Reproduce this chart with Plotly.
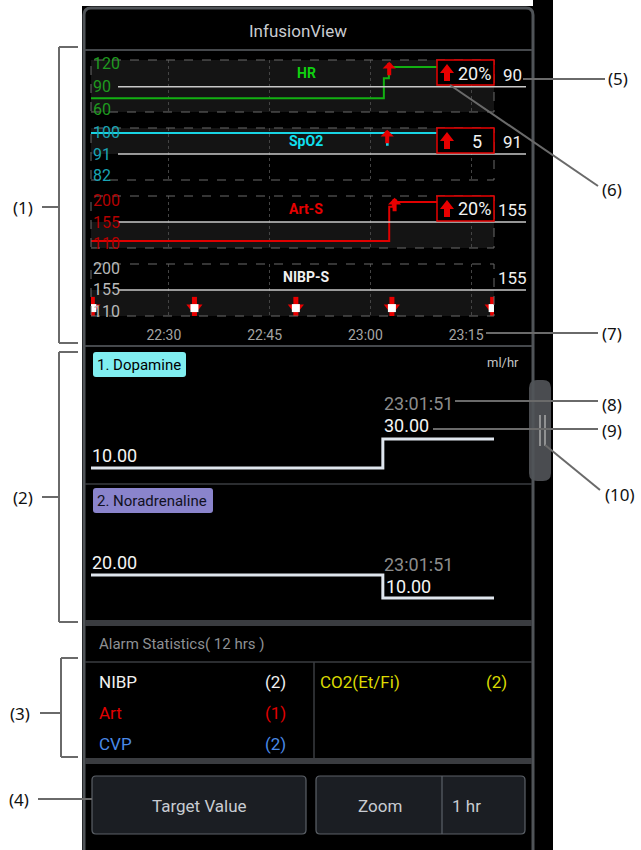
import plotly.graph_objects as go

W, H = 641, 850
def X(px): return px / W
def Y(py): return 1 - py / H

DAY = "2024-05-20 "
# ---------------- data ----------------
window = [DAY + "22:18:24", DAY + "23:18:24"]
time_ticks = [DAY + "22:30", DAY + "22:45", DAY + "23:00", DAY + "23:15"]
time_labels = ["22:30", "22:45", "23:00", "23:15"]

hr_time = [DAY + "22:18:24", DAY + "23:02:00", DAY + "23:02:45", DAY + "23:09:54"]
hr_bpm = [75, 101, 116, 116]
hr_ticks = [60, 90, 120]
hr_target = 90
hr_alarm_time = DAY + "23:02:48"
hr_alarm_text = "20%"

spo2_time = [DAY + "22:18:24", DAY + "23:02:28", DAY + "23:02:34", DAY + "23:09:54"]
spo2_pct = [100, 95, 100, 100]
spo2_ticks = [82, 91, 100]
spo2_target = 91
spo2_alarm_time = DAY + "23:02:30"
spo2_alarm_text = "5"

art_time = [DAY + "22:18:24", DAY + "23:02:48", DAY + "23:03:20", DAY + "23:09:54"]
art_sys = [116, 186, 196, 196]
art_ticks = [110, 155, 200]
art_target = 155
art_alarm_time = DAY + "23:03:36"
art_alarm_text = "20%"

nibp_time = [DAY + "22:18:36", DAY + "22:33:48", DAY + "22:48:54", DAY + "23:03:12", DAY + "23:18:12"]
nibp_sys = [118, 118, 118, 118, 118]
nibp_ticks = [110, 155, 200]
nibp_target = 155

dopa_time = [DAY + "22:18:24", DAY + "23:01:51", DAY + "23:18:24"]
dopa_rate = [10.00, 30.00, 30.00]
nora_time = [DAY + "22:18:24", DAY + "23:01:51", DAY + "23:18:24"]
nora_rate = [20.00, 10.00, 10.00]
change_label = "23:01:51"

alarm_left_names = ["NIBP", "Art", "CVP"]
alarm_left_counts = [2, 1, 2]
alarm_right_names = ["CO2(Et/Fi)"]
alarm_right_counts = [2]

# ---------------- style ----------------
FONT = "Roboto, 'Noto Sans', sans-serif"
RED = "#e80000"
shapes, annos = [], []

def P(x, y):
    return f"{X(x):.5f},{Y(y):.5f}"

def rrect(x0, y0, x1, y1, r, fill=None, line=None, lw=1, layer="below"):
    path = (f"M{P(x0+r,y0)} L{P(x1-r,y0)} Q{P(x1,y0)} {P(x1,y0+r)} L{P(x1,y1-r)} "
            f"Q{P(x1,y1)} {P(x1-r,y1)} L{P(x0+r,y1)} Q{P(x0,y1)} {P(x0,y1-r)} "
            f"L{P(x0,y0+r)} Q{P(x0,y0)} {P(x0+r,y0)} Z")
    shapes.append(dict(type="path", xref="paper", yref="paper", path=path, layer=layer,
                       fillcolor=fill or "rgba(0,0,0,0)",
                       line=dict(color=line or "rgba(0,0,0,0)", width=lw if line else 0)))

def rect(x0, y0, x1, y1, fill, layer="below"):
    shapes.append(dict(type="rect", xref="paper", yref="paper", x0=X(x0), x1=X(x1),
                       y0=Y(y1), y1=Y(y0), fillcolor=fill, line=dict(width=0), layer=layer))

def line(x0, y0, x1, y1, color, w=1.5, layer="above"):
    shapes.append(dict(type="line", xref="paper", yref="paper", x0=X(x0), y0=Y(y0),
                       x1=X(x1), y1=Y(y1), line=dict(color=color, width=w), layer=layer))

def text(t, x, y, size=17, color="#ffffff", anchor="center", bold=False, font=FONT):
    if bold:
        t = f"<b>{t}</b>"
    annos.append(dict(text=t, x=X(x), y=Y(y), xref="paper", yref="paper", showarrow=False,
                      xanchor=anchor, yanchor="middle",
                      font=dict(size=size, color=color, family=font)))

def up_arrow(cx, top):
    pts = [(cx-7, top+9), (cx, top), (cx+7, top+9), (cx+3, top+9), (cx+3, top+17),
           (cx-3, top+17), (cx-3, top+9)]
    path = "M" + " L".join(P(a, b) for a, b in pts) + " Z"
    shapes.append(dict(type="path", xref="paper", yref="paper", path=path, layer="above",
                       fillcolor=RED, line=dict(width=0)))

# device body and panel frame
rect(82, 6, 553, 850, "#000000")
rect(533, 0, 553, 850, "#000000")
# side tab (10)
rrect(529, 380, 551, 481, 8, fill="#4a4c50", layer="below")
rrect(84, 8, 533, 860, 7, line="#505458", lw=3, layer="below")
line(540, 415, 540, 446, "#a8a8a8", 1.5)
line(545, 415, 545, 446, "#a8a8a8", 1.5)

# section separators
line(85, 50, 532, 50, "#45484c", 2, "below")
line(85, 346, 532, 346, "#45484c", 2, "below")
line(85, 484, 532, 484, "#3a3c40", 1.5, "below")
rect(85, 620, 532, 626, "#3a3c40")
line(85, 662, 532, 662, "#3a3c40", 1.5, "below")
line(314, 662, 314, 758, "#3a3c40", 1.5, "below")
rect(85, 758, 532, 764, "#3a3c40")

text("InfusionView", 298, 31, 17, "#c8cbd0")

# ---------------- trend subplots ----------------
X0, X1 = 91, 494
rows = [
    ("", "HR", hr_time, hr_bpm, hr_ticks, hr_target, [57, 125], 60, 112, "#12b012", "#1f9a1f", "#10d010", (0, 1)),
    ("2", "SpO2", spo2_time, spo2_pct, spo2_ticks, spo2_target, [79.9, 102.1], 128, 180, "#18d4e4", "#1aa4b4", "#10e0f0", (0.5, 1)),
    ("3", "Art-S", art_time, art_sys, art_ticks, art_target, [101.8, 208.2], 196, 248, "#e00000", "#b40000", "#e60000", (0, 0.5)),
    ("4", "NIBP-S", nibp_time, nibp_sys, nibp_ticks, nibp_target, [101.8, 208.2], 264, 316, "#ffffff", "#b8b8b8", "#f0f0f0", (0, 0.5)),
]

fig = go.Figure()
layout = {}
for k, name, tt, vv, ticks, target, yr, top, bot, tcol, kcol, lcol, shade in rows:
    xa, ya = "x" + k, "y" + k
    last = (k == "4")
    layout["xaxis" + k] = dict(domain=[X(X0), X(X1)], range=window, type="date", anchor=ya,
                               showgrid=True, gridcolor="#444444", griddash="dot", gridwidth=1,
                               tickvals=time_ticks, ticktext=time_labels, showticklabels=last,
                               ticks="", zeroline=False, showline=False,
                               tickfont=dict(size=14, color="#a4a4a4", family=FONT),
                               ticklabelstandoff=9, ticklabelshift=-5)
    layout["yaxis" + k] = dict(domain=[Y(bot), Y(top)], range=yr, anchor=xa,
                               showticklabels=False, showgrid=False, zeroline=False,
                               showline=False, ticks="")
    # y tick labels, placed inside the frame at each tick value
    for tv in ticks:
        annos.append(dict(text=str(tv), x=X(91), y=tv, xref="paper", yref=ya, showarrow=False,
                          xanchor="left", yanchor="middle",
                          font=dict(size=16, color=kcol, family=FONT)))
    # target shading
    shapes.append(dict(type="rect", xref=xa + " domain", yref=ya + " domain", x0=0, x1=1,
                       y0=shade[0], y1=shade[1], fillcolor="#141414", line=dict(width=0),
                       layer="below"))
    # dashed frame
    shapes.append(dict(type="rect", xref=xa + " domain", yref=ya + " domain", x0=0, x1=1,
                       y0=0, y1=1, line=dict(color="#6a6a6a", width=1, dash="dash"),
                       layer="above"))
    # target reference line
    shapes.append(dict(type="line", xref="paper", yref=ya, x0=X(118), x1=X(526),
                       y0=target, y1=target, line=dict(color="#c8c8c8", width=1.5),
                       layer="above"))
    annos.append(dict(text=str(target), x=X(512), y=target, xref="paper", yref=ya,
                      showarrow=False, yshift=12, xanchor="center", yanchor="middle",
                      font=dict(size=17, color="#f0f0f0", family=FONT)))
    annos.append(dict(text=f"<b>{name}</b>", x=X(306), y=Y(top + 13), xref="paper", yref="paper",
                      showarrow=False, xanchor="center", yanchor="middle",
                      font=dict(size=14, color=lcol, family=FONT)))
    if name != "NIBP-S":
        fig.add_trace(go.Scatter(x=tt, y=vv, xaxis=xa, yaxis=ya, mode="lines",
                                 line=dict(color=tcol, width=2, shape="hv"), showlegend=False))

# NIBP measurement markers
for sym, size, col, lw, lc in [("line-ns", 16, RED, 5, RED), ("triangle-down", 14, RED, 0, RED),
                               ("square", 8, "#ffffff", 0, "#ffffff")]:
    fig.add_trace(go.Scatter(x=nibp_time, y=nibp_sys, xaxis="x4", yaxis="y4", mode="markers",
                             marker=dict(symbol=sym, size=size, color=col,
                                         line=dict(color=lc, width=lw)),
                             showlegend=False, cliponaxis=True))

# alarm event arrows on trends
for xa, ya, t in [("x", "y", hr_alarm_time), ("x2", "y2", spo2_alarm_time), ("x3", "y3", art_alarm_time)]:
    annos.append(dict(x=t, y=0.965, xref=xa, yref=ya + " domain", text="", showarrow=True,
                      ax=0, ay=15, arrowhead=1, arrowsize=0.55, arrowwidth=4, arrowcolor=RED,
                      standoff=0))

# alarm boxes
for top, label in [(60, hr_alarm_text), (128, spo2_alarm_text), (196, art_alarm_text)]:
    shapes.append(dict(type="rect", xref="paper", yref="paper", x0=X(437), x1=X(494),
                       y0=Y(top + 25), y1=Y(top), fillcolor="#000000",
                       line=dict(color=RED, width=1.5), layer="above"))
    up_arrow(447, top + 4)
    text(label, 474 if label != "5" else 477, top + 13, 18, "#f2f2f2")

# ---------------- infusion subplots ----------------
inf = [("5", dopa_time, dopa_rate, [-1.0, 93.4], 347, 484),
       ("6", nora_time, nora_rate, [-0.43, 59.6], 484, 622)]
for k, tt, vv, yr, top, bot in inf:
    layout["xaxis" + k] = dict(domain=[X(X0), X(X1)], range=window, type="date", anchor="y" + k,
                               visible=False)
    layout["yaxis" + k] = dict(domain=[Y(bot), Y(top)], range=yr, anchor="x" + k, visible=False)
    fig.add_trace(go.Scatter(x=tt, y=vv, xaxis="x" + k, yaxis="y" + k, mode="lines",
                             line=dict(color="#dfe6ee", width=3, shape="hv"), showlegend=False))

rrect(93, 352, 186, 377, 3, fill="#80eef0")
text("1. Dopamine", 95, 365, 15, "#000000", "left")
rrect(93, 488, 213, 513, 3, fill="#8a84cc")
text("2. Noradrenaline", 95, 501, 15, "#111122", "left")
text("ml/hr", 503, 362, 13, "#c4c4c4")
text(f"{dopa_rate[0]:.2f}", 90, 455, 18, "#f4f4f4", "left")
text(change_label, 382, 403, 18, "#8c8c8c", "left")
text(f"{dopa_rate[1]:.2f}", 382, 425, 18, "#f4f4f4", "left")
text(f"{nora_rate[0]:.2f}", 90, 562, 18, "#f4f4f4", "left")
text(change_label, 382, 564, 18, "#8c8c8c", "left")
text(f"{nora_rate[1]:.2f}", 384, 586, 18, "#f4f4f4", "left")

# ---------------- alarm statistics ----------------
text("Alarm Statistics( 12 hrs )", 97, 644, 15, "#8e9094", "left")
left_cols = ["#f0f0f0", "#e00000", "#4a8ae8"]
for i, (n, c) in enumerate(zip(alarm_left_names, alarm_left_counts)):
    yy = 682 + i * 31
    text(n, 97, yy, 17, left_cols[i], "left")
    text(f"({c})", 275, yy, 17, left_cols[i])
for i, (n, c) in enumerate(zip(alarm_right_names, alarm_right_counts)):
    yy = 682 + i * 31
    text(n, 318, yy, 17, "#dada00", "left")
    text(f"({c})", 496, yy, 17, "#dada00")

# ---------------- buttons ----------------
rrect(92, 776, 306, 834, 4, fill="#1b1e23", line="#5c6168", lw=1.2)
rrect(316, 776, 525, 834, 4, fill="#1b1e23", line="#5c6168", lw=1.2)
line(442, 776, 442, 834, "#5c6168", 1.2)
text("Target Value", 199, 806, 17, "#c8ccd2")
text("Zoom", 380, 806, 17, "#c8ccd2")
text("1 hr", 466, 806, 17, "#c8ccd2")

# ---------------- callouts ----------------
CF = "'Noto Sans', 'Open Sans', sans-serif"
CC = "#6a6a6a"
def bracket(y0, y1, xv=59):
    line(xv, y0, 78, y0, CC, 2)
    line(xv, y1, 78, y1, CC, 2)
    line(xv, y0, xv, y1, CC, 2)
bracket(47, 343)
line(42, 207, 59, 207, CC, 2)
text("(1)", 23, 207, 17, "#111111", font=CF)
bracket(352, 622)
line(42, 497, 59, 497, CC, 2)
text("(2)", 23, 497, 17, "#111111", font=CF)
bracket(658, 757, 61)
line(40, 713, 61, 713, CC, 2)
text("(3)", 20, 713, 17, "#111111", font=CF)
line(38, 799, 92, 799, CC, 2)
text("(4)", 19, 799, 17, "#111111", font=CF)
line(523, 79, 605, 79, CC, 2)
text("(5)", 618, 79, 17, "#111111", font=CF)
line(450, 85, 598, 186, CC, 2)
text("(6)", 612, 190, 17, "#111111", font=CF)
line(486, 333, 598, 333, CC, 2)
text("(7)", 612, 333, 17, "#111111", font=CF)
line(455, 401, 598, 401, CC, 2)
text("(8)", 612, 404, 17, "#111111", font=CF)
line(433, 429, 598, 429, CC, 2)
text("(9)", 612, 430, 17, "#111111", font=CF)
line(545, 445, 600, 490, CC, 2)
text("(10)", 620, 494, 17, "#111111", font=CF)

fig.update_layout(width=W, height=H, margin=dict(l=0, r=0, t=0, b=0),
                  paper_bgcolor="#ffffff", plot_bgcolor="rgba(0,0,0,0)",
                  shapes=shapes, annotations=annos, showlegend=False,
                  font=dict(family=FONT), **layout)
fig.write_html("out.html", config={"displayModeBar": False},
               post_script="document.body.style.margin='0px';document.body.style.overflow='hidden';")
